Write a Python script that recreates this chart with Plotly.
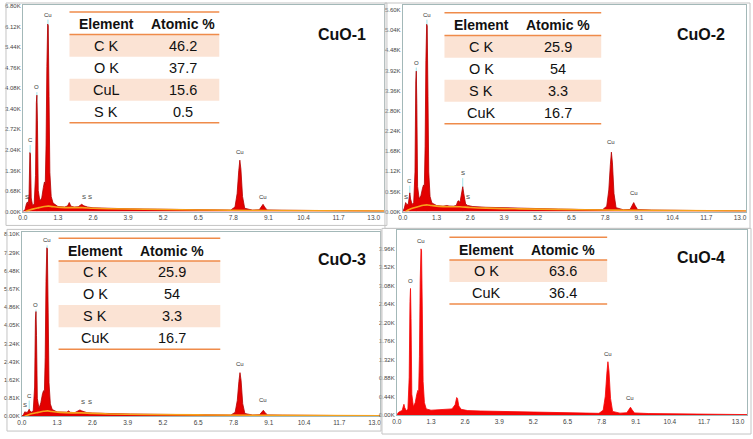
import plotly.graph_objects as go

W, H = 753, 439

ticks_kev = [0.0, 1.3, 2.6, 3.9, 5.2, 6.5, 7.8, 9.1, 10.4, 11.7, 13.0]

# ---- CuO-1 ----
cuo1_kev = [0.00, 0.08, 0.13, 0.17, 0.20, 0.23, 0.26, 0.28, 0.31, 0.36, 0.42, 0.47, 0.50, 0.52, 0.54,
            0.57, 0.63, 0.70, 0.76, 0.80, 0.83, 0.86, 0.89, 0.92, 0.94, 0.97, 1.00, 1.05, 1.12, 1.30,
            1.55, 1.66, 1.72, 1.78, 1.90, 2.05, 2.12, 2.18, 2.26, 2.32, 2.40, 2.60, 3.00, 4.00, 5.00,
            6.00, 7.00, 7.70, 7.86, 7.94, 8.00, 8.04, 8.08, 8.14, 8.22, 8.50, 8.76, 8.84, 8.90, 8.96,
            9.05, 9.60, 10.5, 11.5, 12.5, 13.4]
cuo1_cts = [0, 60, 250, 320, 200, 600, 1950, 1900, 450, 200, 250, 1200, 3600, 3850, 3000,
            700, 350, 450, 800, 980, 900, 2200, 4800, 6200, 6150, 3800, 1300, 500, 280, 170,
            150, 190, 300, 180, 150, 160, 220, 240, 190, 170, 150, 125, 110, 90, 80,
            65, 55, 50, 150, 600, 1350, 1700, 1400, 500, 110, 50, 60, 150, 240, 150,
            55, 45, 35, 28, 20, 16]
cuo1_bg_kev = [0.10, 0.25, 0.40, 0.60, 0.80, 0.95, 1.10, 1.40, 1.80, 2.20, 2.60, 3.20, 4.5, 6.5, 9.0, 13.4]
cuo1_bg_cts = [0, 50, 90, 130, 170, 180, 165, 140, 130, 130, 110, 95, 75, 55, 35, 15]
cuo1_yticks = [0, 680, 1360, 2040, 2720, 3400, 4080, 4760, 5440, 6120, 6800]
cuo1_mark_kev = [0.27, 0.52, 0.93]
cuo1_mark_cts = [2200, 3950, 6350]
cuo1_lbl = ["S", "C", "O", "Cu", "S", "S", "Cu", "Cu"]
cuo1_lbl_kev = [0.16, 0.27, 0.52, 0.93, 2.27, 2.50, 8.04, 8.90]
cuo1_lbl_cts = [330, 2200, 3950, 6350, 330, 330, 1800, 330]
cuo1_elem = ["C K", "O K", "CuL", "S K"]
cuo1_pct = ["46.2", "37.7", "15.6", "0.5"]

# ---- CuO-2 ----
cuo2_kev = [0.00, 0.06, 0.11, 0.15, 0.21, 0.25, 0.27, 0.30, 0.36, 0.42, 0.47, 0.50, 0.52, 0.54, 0.57,
            0.63, 0.70, 0.76, 0.80, 0.83, 0.86, 0.89, 0.92, 0.94, 0.97, 1.00, 1.05, 1.12, 1.30, 1.55,
            1.70, 1.78, 1.95, 2.06, 2.12, 2.16, 2.20, 2.26, 2.31, 2.35, 2.42, 2.50, 2.70, 3.20, 4.00,
            5.00, 6.00, 7.00, 7.70, 7.86, 7.94, 8.00, 8.04, 8.08, 8.14, 8.22, 8.50, 8.76, 8.84, 8.90,
            8.96, 9.05, 9.60, 10.5, 11.5, 12.5, 13.4]
cuo2_cts = [0, 100, 250, 200, 200, 420, 520, 350, 200, 250, 1100, 3600, 3900, 3000, 700,
            350, 450, 650, 740, 700, 1800, 4200, 5200, 5150, 3200, 1100, 420, 240, 170, 150,
            170, 155, 150, 170, 290, 300, 240, 450, 690, 500, 210, 170, 140, 120, 100,
            85, 70, 58, 52, 150, 600, 1300, 1650, 1350, 500, 110, 50, 60, 160, 250,
            160, 55, 42, 33, 26, 20, 15]
cuo2_bg_kev = [0.10, 0.25, 0.40, 0.60, 0.80, 0.95, 1.10, 1.40, 1.80, 2.20, 2.60, 3.20, 4.5, 6.5, 9.0, 13.4]
cuo2_bg_cts = [0, 60, 100, 140, 175, 185, 170, 145, 135, 135, 115, 95, 75, 55, 35, 14]
cuo2_yticks = [0, 560, 1120, 1680, 2240, 2800, 3360, 3920, 4480, 5040, 5600]
cuo2_mark_kev = [0.27, 0.52, 0.93, 2.31]
cuo2_mark_cts = [720, 4000, 5330, 930]
cuo2_lbl = ["S", "C", "O", "Cu", "S", "S", "Cu", "Cu"]
cuo2_lbl_kev = [0.12, 0.27, 0.52, 0.93, 2.31, 2.52, 8.04, 8.90]
cuo2_lbl_cts = [280, 720, 4000, 5330, 930, 280, 1780, 380]
cuo2_elem = ["C K", "O K", "S K", "CuK"]
cuo2_pct = ["25.9", "54", "3.3", "16.7"]

# ---- CuO-3 ----
cuo3_kev = [0.00, 0.06, 0.11, 0.15, 0.21, 0.25, 0.27, 0.30, 0.36, 0.42, 0.47, 0.50, 0.52, 0.54, 0.57,
            0.63, 0.70, 0.76, 0.80, 0.83, 0.86, 0.89, 0.92, 0.94, 0.97, 1.00, 1.05, 1.12, 1.30, 1.55,
            1.66, 1.72, 1.78, 1.95, 2.08, 2.14, 2.20, 2.31, 2.40, 2.60, 3.00, 4.00, 5.00, 6.00, 7.00,
            7.70, 7.86, 7.94, 8.00, 8.04, 8.08, 8.14, 8.22, 8.50, 8.76, 8.84, 8.90, 8.96, 9.05, 9.60,
            10.5, 11.5, 12.5, 13.4]
cuo3_cts = [0, 80, 200, 170, 180, 280, 310, 220, 180, 260, 1300, 4300, 4660, 3600, 800,
            350, 600, 1000, 1140, 1050, 2600, 6000, 7500, 7450, 4600, 1500, 550, 300, 190, 160,
            180, 240, 175, 160, 220, 280, 240, 190, 160, 140, 120, 100, 85, 70, 58,
            52, 170, 700, 1550, 1940, 1600, 560, 120, 55, 65, 170, 265, 170, 60, 48,
            38, 30, 22, 17]
cuo3_bg_kev = [0.10, 0.25, 0.40, 0.60, 0.80, 0.95, 1.10, 1.40, 1.80, 2.20, 2.60, 3.20, 4.5, 6.5, 9.0, 13.4]
cuo3_bg_cts = [0, 70, 120, 170, 220, 240, 210, 170, 150, 150, 125, 100, 80, 60, 38, 16]
cuo3_yticks = [0, 810, 1620, 2430, 3240, 4050, 4860, 5670, 6480, 7290, 8100]
cuo3_mark_kev = [0.27, 0.52, 0.93]
cuo3_mark_cts = [700, 4750, 7610]
cuo3_lbl = ["S", "C", "O", "Cu", "S", "S", "Cu", "Cu"]
cuo3_lbl_kev = [0.13, 0.27, 0.52, 0.93, 2.27, 2.50, 8.04, 8.90]
cuo3_lbl_cts = [260, 700, 4750, 7610, 400, 400, 2110, 480]
cuo3_elem = ["C K", "O K", "S K", "CuK"]
cuo3_pct = ["25.9", "54", "3.3", "16.7"]

# ---- CuO-4 ----
cuo4_kev = [0.00, 0.05, 0.12, 0.20, 0.25, 0.27, 0.30, 0.36, 0.42, 0.47, 0.50, 0.52, 0.54, 0.57, 0.63,
            0.70, 0.76, 0.80, 0.83, 0.86, 0.89, 0.92, 0.94, 0.97, 1.00, 1.05, 1.12, 1.30, 1.60, 1.90,
            2.10, 2.22, 2.28, 2.31, 2.36, 2.45, 2.70, 3.20, 4.00, 5.00, 6.00, 7.00, 7.70, 7.86, 7.94,
            8.00, 8.04, 8.08, 8.14, 8.22, 8.50, 8.76, 8.84, 8.90, 8.96, 9.05, 9.60, 10.5, 11.5, 12.5,
            13.4]
cuo4_cts = [0, 60, 90, 110, 220, 260, 180, 110, 140, 900, 2700, 3010, 2300, 500, 200,
            300, 500, 590, 560, 1400, 3200, 3950, 3900, 2500, 800, 300, 150, 120, 130, 140,
            150, 250, 420, 400, 220, 140, 110, 100, 90, 75, 60, 50, 45, 120, 450,
            1000, 1270, 1050, 400, 90, 50, 60, 130, 190, 130, 55, 40, 30, 25, 20,
            15]
cuo4_yticks = [0, 440, 880, 1320, 1760, 2200, 2640, 3080, 3520, 3960]
cuo4_lbl = ["O", "Cu", "Cu", "Cu"]
cuo4_lbl_kev = [0.52, 0.93, 8.04, 8.90]
cuo4_lbl_cts = [3080, 4020, 1340, 280]
cuo4_elem = ["O K", "CuK"]
cuo4_pct = ["63.6", "36.4"]

names = ["CuO-1", "CuO-2", "CuO-3", "CuO-4"]


def px(x):
    return x / W


def py(y):
    return 1 - y / H


# panel geometry in pixels: left, right, top, bottom, x max, y max
panels = [
    dict(l=18, r=382, t=3, b=212, xmax=13.38, ymax=6833, yt=cuo1_yticks),
    dict(l=401, r=747, t=3, b=212, xmax=13.23, ymax=5737, yt=cuo2_yticks),
    dict(l=17, r=378, t=233, b=419, xmax=13.2, ymax=8188, yt=cuo3_yticks),
    dict(l=395, r=748, t=231, b=418, xmax=13.34, ymax=4389, yt=cuo4_yticks),
]
frames = [(1, 1, 385, 226), (383, 1, 751, 229), (2, 230, 379, 434), (380, 229, 752, 437)]
# table: left, right, top line, header line; sample name position (px)
tables = [
    dict(l=65, r=216, t=10, h=33, name_x=340, name_y=33),
    dict(l=443, r=601, t=11, h=34, name_x=702, name_y=33),
    dict(l=54, r=217, t=239, h=262, name_x=340, name_y=260),
    dict(l=448, r=607, t=238, h=261, name_x=702, name_y=258),
]
row_h = 22.3

spectra = [
    (cuo1_kev, cuo1_cts, cuo1_bg_kev, cuo1_bg_cts, cuo1_mark_kev, cuo1_mark_cts,
     cuo1_lbl, cuo1_lbl_kev, cuo1_lbl_cts, cuo1_elem, cuo1_pct),
    (cuo2_kev, cuo2_cts, cuo2_bg_kev, cuo2_bg_cts, cuo2_mark_kev, cuo2_mark_cts,
     cuo2_lbl, cuo2_lbl_kev, cuo2_lbl_cts, cuo2_elem, cuo2_pct),
    (cuo3_kev, cuo3_cts, cuo3_bg_kev, cuo3_bg_cts, cuo3_mark_kev, cuo3_mark_cts,
     cuo3_lbl, cuo3_lbl_kev, cuo3_lbl_cts, cuo3_elem, cuo3_pct),
    (cuo4_kev, cuo4_cts, None, None, [], [],
     cuo4_lbl, cuo4_lbl_kev, cuo4_lbl_cts, cuo4_elem, cuo4_pct),
]

fig = go.Figure()
shapes = []
annotations = []
layout_axes = {}
FONT = "Arial, Liberation Sans, sans-serif"


def paper_text(x, y, text, size):
    return dict(x=px(x), y=py(y), xref="paper", yref="paper", text=text, showarrow=False,
                xanchor="center", yanchor="middle",
                font=dict(size=size, color="#111", family=FONT))


for i, (p, s, tb, fr) in enumerate(zip(panels, spectra, tables, frames)):
    k = "" if i == 0 else str(i + 1)
    xa, ya = "x" + k, "y" + k
    kev, cts, bgk, bgc, mk, mc, lbl, lk, lc, elem, pct = s

    # cyan peak marker lines
    if mk:
        lx, ly = [], []
        for e, c in zip(mk, mc):
            lx += [e, e, None]
            ly += [0, c, None]
        fig.add_trace(go.Scatter(x=lx, y=ly, mode="lines", xaxis=xa, yaxis=ya,
                                 line=dict(color="#9fe3ea", width=1), hoverinfo="skip"))
    red = "#f50505" if i == 3 else "#e30000"
    edge = "#f50505" if i == 3 else "#b40000"
    fig.add_trace(go.Scatter(x=kev, y=cts, mode="lines", fill="tozeroy", xaxis=xa, yaxis=ya,
                             fillcolor=red, line=dict(color=edge, width=0.8), hoverinfo="skip"))
    if bgk:
        fig.add_trace(go.Scatter(x=bgk, y=bgc, mode="lines", xaxis=xa, yaxis=ya,
                                 line=dict(color="#f7a21b", width=1.6, shape="spline"),
                                 hoverinfo="skip"))
    for t, e, c in zip(lbl, lk, lc):
        annotations.append(dict(x=e, y=c, xref=xa, yref=ya, text=t, showarrow=False,
                                xanchor="center", yanchor="bottom",
                                font=dict(size=6, color="#333", family=FONT)))

    layout_axes["xaxis" + k] = dict(
        domain=[px(p["l"]), px(p["r"])], range=[0, p["xmax"]], anchor=ya,
        tickvals=ticks_kev, ticktext=[f"{t:.1f}" for t in ticks_kev],
        showgrid=False, zeroline=False, showline=True, linecolor="#a3b8b8", mirror=True,
        ticks="", tickfont=dict(size=6.5, color="#444", family=FONT))
    layout_axes["yaxis" + k] = dict(
        domain=[py(p["b"]), py(p["t"])], range=[0, p["ymax"]], anchor=xa,
        tickvals=p["yt"], ticktext=[f"{v / 1000:.2f}K" for v in p["yt"]],
        showgrid=False, zeroline=False, showline=True, linecolor="#a3b8b8", mirror=True,
        ticks="", tickfont=dict(size=6, color="#444", family=FONT))

    # outer panel frame
    shapes.append(dict(type="rect", xref="paper", yref="paper", x0=px(fr[0]), x1=px(fr[2]),
                       y0=py(fr[3]), y1=py(fr[1]), line=dict(color="#c4c4c4", width=1)))

    # table
    c1 = tb["l"] + 37
    c2 = tb["l"] + 114
    for j in range(len(elem)):
        y0 = tb["h"] + j * row_h
        if j % 2 == 0:
            shapes.append(dict(type="rect", xref="paper", yref="paper", layer="below",
                               x0=px(tb["l"]), x1=px(tb["r"]), y0=py(y0 + row_h), y1=py(y0),
                               fillcolor="#fbe3d4", line=dict(width=0)))
        yc = y0 + row_h / 2
        annotations.append(paper_text(c1, yc, elem[j], 14.5))
        annotations.append(paper_text(c2, yc, pct[j], 14.5))
    bottom = tb["h"] + len(elem) * row_h
    for yl in (tb["t"], tb["h"], bottom):
        shapes.append(dict(type="line", xref="paper", yref="paper", x0=px(tb["l"]), x1=px(tb["r"]),
                           y0=py(yl), y1=py(yl), line=dict(color="#ef8b4a", width=1.5)))
    hy = (tb["t"] + tb["h"]) / 2 + 1
    annotations.append(paper_text(c1, hy, "<b>Element</b>", 14))
    annotations.append(paper_text(c2, hy, "<b>Atomic %</b>", 14))
    annotations.append(paper_text(tb["name_x"], tb["name_y"], f"<b>{names[i]}</b>", 16))

fig.update_layout(
    width=W, height=H, margin=dict(l=0, r=0, t=0, b=0),
    paper_bgcolor="white", plot_bgcolor="white", showlegend=False,
    hovermode=False, shapes=shapes, annotations=annotations, **layout_axes)

fig.write_html("out.html", config={"displayModeBar": False},
               post_script="document.body.style.margin='0px';")
